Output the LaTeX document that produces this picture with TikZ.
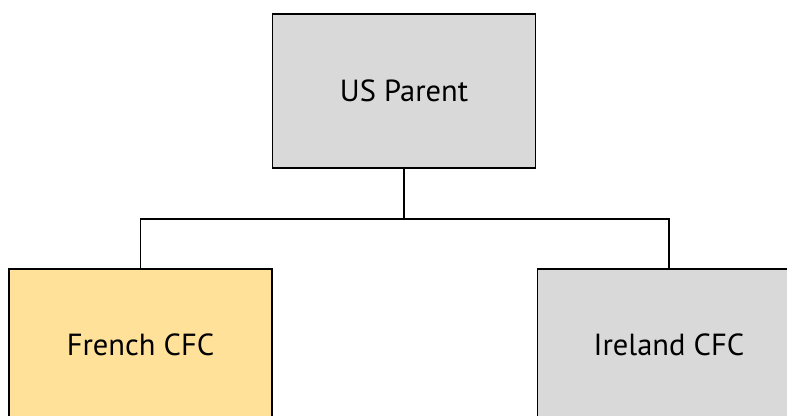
\documentclass[tikz,border=0pt]{standalone}
\usepackage{fontspec}
\setmainfont{PT Sans}
\definecolor{boxgray}{HTML}{D9D9D9}
\definecolor{boxgold}{HTML}{FFE199}
\tikzset{
  orgbox/.style={draw=black, line width=1.6pt, minimum width=263pt, minimum height=154pt, inner sep=0pt, font=\fontsize{30.5}{36}\selectfont, text=black},
  conn/.style={draw=black, line width=1.6pt}
}
\begin{document}
\begin{tikzpicture}[x=1pt,y=-1pt]
\useasboundingbox (0,0) rectangle (787,415);
\clip (0,0) rectangle (787,415);
\node[orgbox, fill=boxgray] (parent) at (404,91) {US Parent};
\node[orgbox, fill=boxgold, minimum height=152pt] (french) at (140.5,345) {French CFC};
\node[orgbox, fill=boxgray, minimum height=152pt] (ireland) at (669,345) {Ireland CFC};
\coordinate (mid) at (404,219);
\draw[conn] (parent.south) -- (mid);
\draw[conn] (french.north) |- (mid) -| (ireland.north);
\end{tikzpicture}
\end{document}
